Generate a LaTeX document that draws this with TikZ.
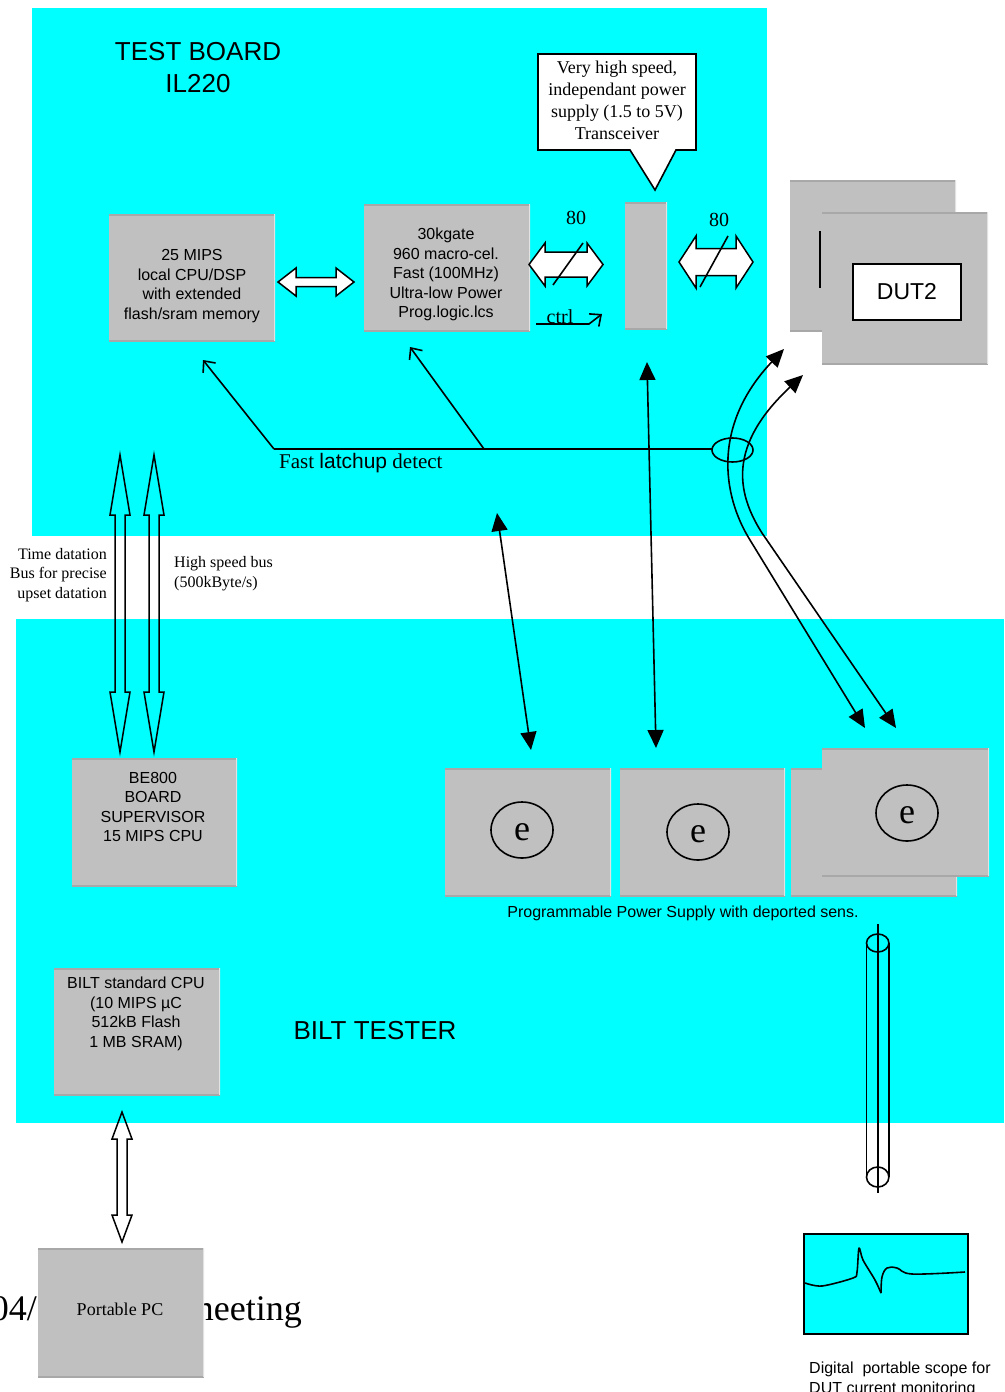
\documentclass[tikz,border=0pt]{standalone}
\usepackage{fontspec}
\setmainfont{Liberation Serif}
\setsansfont{Liberation Sans}
\usetikzlibrary{arrows.meta}
\definecolor{bgcyan}{HTML}{00FFFF}
\definecolor{boxgray}{HTML}{C0C0C0}
\definecolor{bevdark}{HTML}{A8A8A8}
\definecolor{bevlight}{HTML}{E2E2E2}
\newcommand\hblk[6]{%
  \draw[line width=1.5, fill=white, line join=miter]
    (#1,#3) -- (#1+#6,#3-#5) -- (#1+#6,#3-#4) -- (#2-#6,#3-#4) -- (#2-#6,#3-#5) -- (#2,#3)
    -- (#2-#6,#3+#5) -- (#2-#6,#3+#4) -- (#1+#6,#3+#4) -- (#1+#6,#3+#5) -- cycle;}
\newcommand\vblk[6]{%
  \draw[line width=1.5, line join=miter]
    (#3,#1) -- (#3-#5,#1+#6) -- (#3-#4,#1+#6) -- (#3-#4,#2-#6) -- (#3-#5,#2-#6) -- (#3,#2)
    -- (#3+#5,#2-#6) -- (#3+#4,#2-#6) -- (#3+#4,#1+#6) -- (#3+#5,#1+#6) -- cycle;}
\tikzset{
  graybox/.style={fill=boxgray, inner sep=0pt, outer sep=0pt,
    path picture={
      \draw[line width=3, bevdark] (path picture bounding box.north west) -- (path picture bounding box.north east);
      \draw[line width=3, bevdark] (path picture bounding box.south west) -- (path picture bounding box.south east);
      \draw[line width=3, bevlight] (path picture bounding box.north east) -- (path picture bounding box.south east);
    }},
  sanstxt/.style={font=\sffamily\fontsize{16}{19.5}\selectfont, align=center, inner sep=0pt},
  sertxt/.style={font=\rmfamily\fontsize{16}{19.5}\selectfont, inner sep=0pt},
  bigsans/.style={font=\sffamily\fontsize{26}{32}\selectfont, align=center, inner sep=0pt},
  ln/.style={line width=1.6, black},
  tri/.style={line width=1.6, {Triangle[length=18pt,width=16pt]}-{Triangle[length=18pt,width=16pt]}},
  barb/.style={line width=1.6, -{Straight Barb[length=9pt,width=16pt,line width=1.6]}},
}
\begin{document}
\begin{tikzpicture}[x=1pt,y=-1pt]
\useasboundingbox (0,0) rectangle (1004,1392);
\fill[white] (0,0) rectangle (1004,1392);
% backgrounds
\fill[bgcyan] (32,8) rectangle (767,536);
\fill[bgcyan] (16,619) rectangle (1004,1123);

% titles
\node[bigsans] (tb) at (198,68) {TEST BOARD\\IL220};
\node[bigsans] (bt) at (375,1031) {BILT TESTER};

% background meeting text (partly hidden)
\node[font=\rmfamily\fontsize{36}{40}\selectfont, inner sep=0pt, anchor=base east] (m1) at (37,1320) {04/};
\node[font=\rmfamily\fontsize{36}{40}\selectfont, inner sep=0pt, anchor=base east] (m2) at (302,1320) {meeting};

% boxes
\node[graybox, minimum width=166, minimum height=127] (cpu) at (192,277.5) {};
\node[graybox, minimum width=166, minimum height=127] (logic) at (447,267.5) {};
\node[graybox, minimum width=42, minimum height=127] (trans) at (646,265.5) {};
\node[graybox, minimum width=166, minimum height=151] (dutb) at (873,255.5) {};
\draw[line width=1.6] (820,231) -- (820,288);
\node[graybox, minimum width=166, minimum height=152] (dutf) at (905,288) {};
\node[draw, line width=1.6, fill=white, minimum width=108, minimum height=56, inner sep=0pt,
      font=\sffamily\fontsize{23}{26}\selectfont] (dut2) at (907,292) {DUT2};
\node[graybox, minimum width=165, minimum height=128] (be) at (154.5,822) {};
\node[graybox, minimum width=166, minimum height=127] (bilt) at (137,1031.5) {};
\node[graybox, minimum width=166, minimum height=128] (ps1) at (528,832) {};
\node[graybox, minimum width=165, minimum height=128] (ps2) at (702.5,832) {};
\node[graybox, minimum width=166, minimum height=128] (ps3) at (874,832) {};
\node[graybox, minimum width=167, minimum height=128] (ps4) at (905.5,812) {};
\node[graybox, minimum width=166, minimum height=129] (pc) at (121,1312.5) {};

% box texts
\node[sanstxt] (cput) at (192,286) {25 MIPS\\local CPU/DSP\\with extended\\flash/sram memory};
\node[sanstxt] (logt) at (446,274.5) {30kgate\\960 macro-cel.\\Fast (100MHz)\\Ultra-low Power\\Prog.logic.lcs};
\node[sanstxt] (bet) at (153,807) {BE800\\BOARD\\SUPERVISOR\\15 MIPS CPU};
\node[sanstxt] (biltt) at (136,1014) {BILT standard CPU\\(10 MIPS µC\\512kB Flash\\1 MB SRAM)};
\node[font=\rmfamily\fontsize{18}{22}\selectfont, inner sep=0pt] (pct) at (120,1309) {Portable PC};

% PS ellipses
\foreach \n/\cx/\cy in {e1/522/830, e2/698/832, e4/907/813}{
  \draw[line width=1.6] (\cx,\cy) ellipse [x radius=31, y radius=28];
  \node[font=\rmfamily\fontsize{36}{40}\selectfont, inner sep=0pt] (\n) at (\cx,\cy+2) {e};
}
\node[sanstxt] (pslab) at (683,913) {Programmable Power Supply with deported sens.};

% callout
\draw[line width=1.6, fill=white, line join=miter] (538,54) -- (696,54) -- (696,150) -- (676,150) -- (655,190) -- (630,150) -- (538,150) -- cycle;
\node[font=\rmfamily\fontsize{18}{22}\selectfont, align=center, inner sep=0pt] (callt) at (617,100)
  {Very high speed,\\independant power\\supply (1.5 to 5V)\\Transceiver};

% block arrows
\hblk{278}{354}{282}{4.5}{14}{18}
\hblk{529}{603}{264.5}{12.5}{21.5}{16}
\hblk{679}{753}{262}{13.5}{26}{17}
\draw[line width=1.6] (553,285) -- (583,243);
\draw[line width=1.6] (700,287) -- (728,236);
\node[font=\rmfamily\fontsize{20}{24}\selectfont, inner sep=0pt] (n80a) at (576,218) {80};
\node[font=\rmfamily\fontsize{20}{24}\selectfont, inner sep=0pt] (n80b) at (719,220) {80};
\node[font=\rmfamily\fontsize{20}{24}\selectfont, inner sep=0pt] (ctrl) at (560,317) {ctrl};
\coordinate (c1) at (536,324);
\coordinate (c2) at (589,324);
\coordinate (c3) at (602,314);
\draw[barb] (c1) -- (c2) -- (c3);

% bus arrows
\vblk{455}{752}{120}{5}{10}{60}
\vblk{455}{752}{154}{5}{10}{60}
\vblk{1112}{1242}{122}{5}{10}{27}
\node[sertxt, align=right, anchor=east] (tdl) at (107,575) {Time datation\\Bus for precise\\upset datation};
\node[sertxt, align=left, anchor=west] (hsl) at (174,573.5) {High speed bus\\(500kByte/s)};

% latchup detect
\coordinate (l1) at (274,449);
\coordinate (l2) at (484,449);
\coordinate (la) at (203,360);
\coordinate (lb) at (410,347);
\coordinate (lr) at (712,449);
\draw[ln] (l1) -- (lr);
\draw[barb] (l1) -- (la);
\draw[barb] (l2) -- (lb);
\node[inner sep=0pt, anchor=west, font=\fontsize{21}{24}\selectfont] (latch) at (279,463)
  {\rmfamily Fast {\sffamily latchup} detect};

% power supply arrows
\coordinate (p1t) at (647,362);
\coordinate (p1b) at (656,748);
\coordinate (p2t) at (497,513);
\coordinate (p2b) at (531,750);
\draw[tri] (p1t) -- (p1b);
\draw[tri] (p2t) -- (p2b);

% cables
\coordinate (ca1) at (865,728);
\coordinate (ca2) at (784,349);
\coordinate (cb1) at (896,728);
\coordinate (cb2) at (803,375);
\draw[tri] (ca1) -- (750,540) .. controls (722,495) and (712,425) .. (ca2);
\draw[tri] (cb1) -- (762,533) .. controls (736,492) and (728,445) .. (cb2);
\draw[line width=1.6] (732.5,450) ellipse [x radius=20.5, y radius=12];

% cylinder probe
\draw[line width=1.6] (866.5,943) -- (866.5,1177);
\draw[line width=1.6] (889,943) -- (889,1177);
\draw[line width=1.6] (877.7,943) ellipse [x radius=11.2, y radius=9];
\draw[line width=1.6] (877.7,1177) ellipse [x radius=11.2, y radius=10];
\draw[line width=1.6] (877.7,924) -- (877.7,1193);

% scope
\node[draw, line width=2, fill=bgcyan, minimum width=164, minimum height=100, inner sep=0pt] (scope) at (886,1284) {};
\draw[line width=1.6, line join=round] plot[smooth, tension=0.5] coordinates {
  (805,1283) (822,1286) (853,1278) (857,1272) (859,1248) (863,1260) (875,1280) (881,1293)};
\draw[line width=1.6, line join=round] plot[smooth, tension=0.6] coordinates {
  (881,1293) (882,1277) (887,1268) (897,1268) (912,1274) (965,1272)};
\node[sanstxt, align=left, anchor=west] (scl) at (809,1379.5) {Digital\ \ portable scope for\\DUT current monitoring};
\end{tikzpicture}
\end{document}
